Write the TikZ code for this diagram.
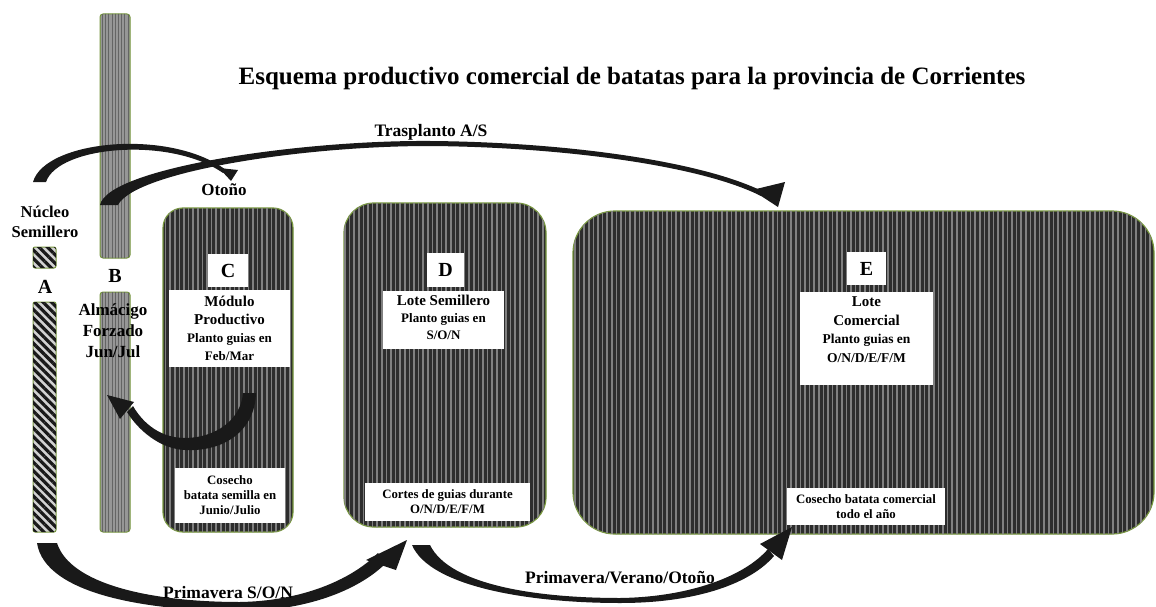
\documentclass[tikz,border=0pt]{standalone}
\usepackage{fontspec}
\setmainfont{Liberation Serif}
\usetikzlibrary{patterns.meta}
\definecolor{bord}{RGB}{118,150,60}
\definecolor{darkfill}{RGB}{45,45,45}
\definecolor{stripe}{RGB}{128,128,128}
\definecolor{bfill}{RGB}{150,150,150}
\definecolor{bstripe}{RGB}{100,100,100}
\tikzset{
  field/.style={draw=bord, line width=1.2pt, fill=darkfill,
    postaction={pattern={Lines[angle=90,distance=4.6pt,line width=1.5pt]}, pattern color=stripe}},
  hatchbar/.style={draw=bord, line width=1pt, fill=gray!35, rounded corners=2pt,
    postaction={pattern={Lines[angle=-45,distance=6pt,line width=3.2pt]}, pattern color=black!90}},
  greybar/.style={draw=bord, line width=1pt, fill=bfill, rounded corners=3pt,
    postaction={pattern={Lines[angle=90,distance=3.2pt,line width=0.9pt]}, pattern color=bstripe}},
  wbox/.style={fill=white, inner sep=0pt},
  lbl/.style={font=\bfseries\fontsize{14}{17}\selectfont, align=center, inner sep=0pt},
  arrlbl/.style={font=\bfseries\fontsize{17.5}{20}\selectfont, inner sep=0pt},
  big/.style={font=\bfseries\fontsize{20}{24}\selectfont, inner sep=0pt},
  small/.style={font=\bfseries\fontsize{12.8}{15}\selectfont, align=center, inner sep=0pt},
  blk/.style={fill=black!90, draw=none},
}
\begin{document}
\begin{tikzpicture}[x=1pt,y=-1pt]
\useasboundingbox[fill=white] (0,0) rectangle (1156,607);

% title
\node[font=\bfseries\fontsize{25}{30}\selectfont] (title) at (632,78) {Esquema productivo comercial de batatas para la provincia de Corrientes};

% A bars
\node[hatchbar, minimum width=23pt, minimum height=21pt] (A1) at (44.5,257.5) {};
\node[hatchbar, minimum width=23pt, minimum height=230pt] (A2) at (44.5,417) {};
\node[big] (Alab) at (45,287) {A};
\node[lbl, font=\bfseries\fontsize{16.5}{20}\selectfont] (nucleo) at (45,222) {Núcleo\\Semillero};

% B bars
\node[greybar, minimum width=30pt, minimum height=244pt] (B1) at (115,136) {};
\node[greybar, minimum width=30pt, minimum height=240pt] (B2) at (115,412) {};
\node[big] (Blab) at (115,276) {B};
\node[lbl, font=\bfseries\fontsize{17}{21}\selectfont] (almacigo) at (113,331) {Almácigo\\Forzado\\Jun/Jul};

% C field
\node[field, rounded corners=20pt, minimum width=130pt, minimum height=324pt] (C) at (228,370) {};
\node[wbox, minimum width=40pt, minimum height=33pt] (Cl) at (228,270.5) {};
\node[big] (Clt) at (Cl) {C};
\node[wbox, minimum width=121pt, minimum height=77pt] (Ct) at (229.5,328.5) {};
\node[lbl, anchor=north, font=\bfseries\fontsize{15}{18}\selectfont] (Ctt) at ([yshift=-6pt]Ct.north) {Módulo\\Productivo\\{\fontsize{13}{15}\selectfont Planto guias en}\\{\fontsize{13}{15}\selectfont Feb/Mar}};
\node[wbox, minimum width=110pt, minimum height=55pt] (Cb) at (230,495.5) {};
\node[small] (Cbt) at (Cb) {Cosecho\\batata semilla en\\Junio/Julio};
\node[lbl, font=\bfseries\fontsize{17}{20}\selectfont] (otono) at (224,190) {Otoño};

% D field
\node[field, rounded corners=30pt, minimum width=202pt, minimum height=324pt] (D) at (445,365) {};
\node[wbox, minimum width=37pt, minimum height=34pt] (Dl) at (445.5,270) {};
\node[big] (Dlt) at (Dl) {D};
\node[wbox, minimum width=121pt, minimum height=58pt] (Dt) at (443.5,320) {};
\node[lbl, anchor=north, font=\bfseries\fontsize{15}{17}\selectfont] (Dtt) at ([yshift=-4pt]Dt.north) {Lote Semillero\\{\fontsize{13}{16}\selectfont Planto guias en}\\{\fontsize{13}{16}\selectfont S/O/N}};
\node[wbox, minimum width=165pt, minimum height=38pt] (Db) at (447.5,502) {};
\node[small] (Dbt) at (Db) {Cortes de guias durante\\O/N/D/E/F/M};

% E field
\node[field, rounded corners=42pt, minimum width=581pt, minimum height=323pt] (E) at (863.5,372.5) {};
\node[wbox, minimum width=39pt, minimum height=33pt] (El) at (866.5,268.5) {};
\node[big] (Elt) at (El) {E};
\node[wbox, minimum width=133pt, minimum height=93pt] (Et) at (866.5,338.5) {};
\node[lbl, anchor=north, font=\bfseries\fontsize{15}{18.5}\selectfont] (Ett) at ([yshift=-5pt]Et.north) {Lote\\Comercial\\{\fontsize{13.5}{14}\selectfont Planto guias en}\\{\fontsize{13.5}{14}\selectfont O/N/D/E/F/M}};
\node[wbox, minimum width=158pt, minimum height=37pt] (Eb) at (866,506.5) {};
\node[small] (Ebt) at (Eb) {Cosecho batata comercial\\todo el año};

% arrow 1: A -> Otoño
\fill[blk] (33,182) .. controls (45,140) and (170,128) .. (226,170)
  -- (223,173) .. controls (170,136) and (58,146) .. (46,182) -- cycle;
\fill[blk] (219,168) -- (238,170) -- (231,181) -- cycle;

% arrow 2: B -> E (Trasplanto)
\fill[blk] (100,205) .. controls (108,168) and (300,140) .. (430,141)
  .. controls (560,142) and (700,160) .. (764,192)
  -- (761,196) .. controls (700,165) and (560,147) .. (430,146)
  .. controls (300,146) and (135,172) .. (118,205) -- cycle;
\fill[blk] (752,190) -- (785,182) -- (778,207) -- cycle;
\node[arrlbl] (trasp) at (431,132) {Trasplanto A/S};

% arrow 3: C -> B
\fill[blk] (256,393) .. controls (255,430) and (225,452) .. (185,450)
  .. controls (160,449) and (138,430) .. (127,412)
  -- (133,406) .. controls (144,425) and (162,438) .. (185,438)
  .. controls (215,438) and (241,420) .. (243,393) -- cycle;
\fill[blk] (107,395) -- (134,402) -- (120,419) -- cycle;

% arrow 4: A -> D (Primavera S/O/N)
\fill[blk] (37,543) .. controls (45,595) and (150,611) .. (240,611)
  .. controls (310,611) and (362,588) .. (387,562)
  -- (378,553) .. controls (350,581) and (300,601) .. (240,602)
  .. controls (150,602) and (70,584) .. (57,543) -- cycle;
\fill[blk] (366,560) -- (407,540) -- (396,570) -- cycle;
\node[arrlbl] (prim1) at (228,593) {Primavera S/O/N};

% arrow 5: D -> E (Primavera/Verano/Otoño)
\fill[blk] (412,545) .. controls (430,587) and (530,603) .. (620,603)
  .. controls (700,603) and (752,582) .. (774,556)
  -- (768,549) .. controls (745,576) and (690,597) .. (620,598)
  .. controls (540,598) and (450,586) .. (430,545) -- cycle;
\fill[blk] (760,544) -- (792,527) -- (782,560) -- cycle;
\node[arrlbl] (prim2) at (620,578) {Primavera/Verano/Otoño};
\end{tikzpicture}
\end{document}
